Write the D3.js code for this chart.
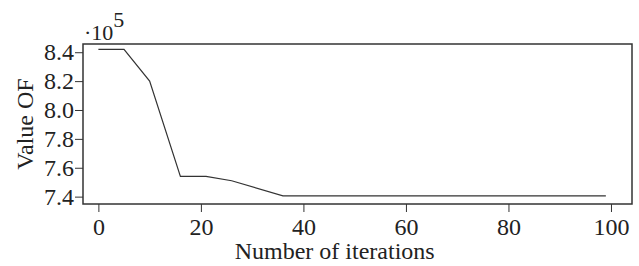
<!DOCTYPE html>
<html>
<head>
<meta charset="utf-8">
<script src="https://cdn.jsdelivr.net/npm/d3@7"></script>
<style>
  body { margin: 0; background: #fff; }
  text { font-family: "Liberation Serif", "Times New Roman", serif; fill: #222; }
</style>
</head>
<body>
<script>
// iteration number and objective value (x 10^5)
const iterations = [0, 5, 10, 16, 21, 26, 36, 99];
const values = [8.42, 8.42, 8.20, 7.54, 7.54, 7.51, 7.405, 7.405];
const xTicks = [0, 20, 40, 60, 80, 100];
const yTicks = [7.4, 7.6, 7.8, 8.0, 8.2, 8.4];

const w = 639, h = 266;
const margin = { top: 44, right: 7, bottom: 62, left: 83 };

const svg = d3.select("body").append("svg")
    .attr("width", w)
    .attr("height", h);

const x = d3.scaleLinear().domain([-3, 104.1]).range([margin.left, w - margin.right]);
const y = d3.scaleLinear().domain([7.349, 8.457]).range([h - margin.bottom, margin.top]);

const xAxis = svg.append("g")
    .attr("transform", "translate(0," + (h - margin.bottom) + ")")
    .call(d3.axisBottom(x).tickValues(xTicks).tickSize(8).tickPadding(6).tickSizeOuter(0));

const yAxis = svg.append("g")
    .attr("transform", "translate(" + margin.left + ",0)")
    .call(d3.axisLeft(y).tickValues(yTicks).tickFormat(d3.format(".1f")).tickSize(8).tickPadding(1).tickSizeOuter(0));

[xAxis, yAxis].forEach(function (g) {
    g.attr("font-family", null);
    g.select(".domain").remove();
    g.selectAll(".tick line").attr("stroke", "#333").attr("stroke-width", 1);
    g.selectAll(".tick text").attr("font-size", "24px").attr("fill", "#222");
});

// frame
svg.append("rect")
    .attr("x", margin.left)
    .attr("y", margin.top)
    .attr("width", w - margin.left - margin.right)
    .attr("height", h - margin.top - margin.bottom)
    .attr("fill", "none")
    .attr("stroke", "#333")
    .attr("stroke-width", 1.5);

const line = d3.line()
    .x(function (d, i) { return x(iterations[i]); })
    .y(function (d) { return y(d); });

svg.append("path")
    .datum(values)
    .attr("d", line)
    .attr("fill", "none")
    .attr("stroke", "#333")
    .attr("stroke-width", 1.2);

svg.append("text")
    .attr("x", (x(0) + x(100)) / 2 - 20)
    .attr("y", 259)
    .attr("text-anchor", "middle")
    .attr("font-size", "24px")
    .text("Number of iterations");

svg.append("text")
    .attr("transform", "translate(33," + ((margin.top + h - margin.bottom) / 2) + ") rotate(-90)")
    .attr("text-anchor", "middle")
    .attr("font-size", "24px")
    .text("Value OF");

const mult = svg.append("text")
    .attr("x", 84)
    .attr("y", 40)
    .attr("font-size", "22px");
mult.append("tspan").text("·10");
mult.append("tspan").attr("dy", "-13").text("5");
</script>
</body>
</html>
